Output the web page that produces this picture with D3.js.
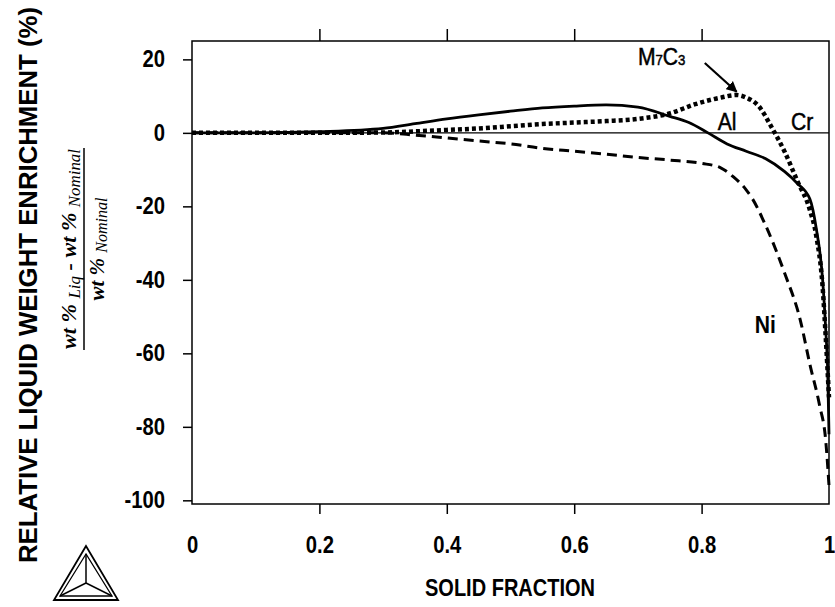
<!DOCTYPE html>
<html><head><meta charset="utf-8">
<script src="https://cdn.jsdelivr.net/npm/d3@7"></script>
<style>body{margin:0;background:#fff}</style>
</head><body>
<svg id="c" width="835" height="607" xmlns="http://www.w3.org/2000/svg"></svg>
<script>
// ---- data ----
const xTicks = [0, 0.2, 0.4, 0.6, 0.8, 1];
const xTickLabels = ["0", "0.2", "0.4", "0.6", "0.8", "1"];
const yTicks = [20, 0, -20, -40, -60, -80, -100];
const yTickLabels = ["20", "0", "-20", "-40", "-60", "-80", "-100"];

// Al (solid)
const alX = [0, 0.1, 0.2, 0.3, 0.35, 0.4, 0.45, 0.5, 0.55, 0.6, 0.65, 0.7, 0.75, 0.78, 0.81, 0.84, 0.87, 0.9, 0.93, 0.95, 0.97, 0.98, 0.99, 0.995, 0.998, 1.0];
const alY = [0, 0, 0.3, 1.2, 2.5, 3.8, 4.9, 5.9, 6.8, 7.3, 7.6, 7.0, 4.5, 2.8, 0, -3, -5, -7, -10.5, -13.7, -18, -26, -40, -54, -65, -82];
// Cr (dotted)
const crX = [0, 0.1, 0.2, 0.3, 0.35, 0.4, 0.45, 0.5, 0.55, 0.6, 0.65, 0.7, 0.75, 0.79, 0.83, 0.855, 0.87, 0.89, 0.91, 0.93, 0.95, 0.97, 0.98, 0.99, 0.995, 1.0];
const crY = [0, 0, 0, 0.1, 0.4, 0.8, 1.2, 1.8, 2.4, 2.8, 3.2, 3.8, 5.3, 7.8, 9.6, 10.3, 9.6, 7.2, 1.5, -5, -13, -21, -28, -42, -56, -72];
// Ni (dashed)
const niX = [0, 0.1, 0.2, 0.3, 0.35, 0.4, 0.45, 0.5, 0.55, 0.6, 0.65, 0.7, 0.75, 0.8, 0.83, 0.85, 0.87, 0.88, 0.9, 0.93, 0.955, 0.97, 0.985, 0.995, 1.0];
const niY = [0, 0, 0, 0, -0.6, -1.4, -2.2, -3.0, -4.2, -5.0, -5.8, -6.7, -7.4, -8.3, -9.5, -12, -15.5, -18, -25, -38, -51, -63, -74, -84, -96];

const seriesNames = ["Al", "Cr", "Ni"];

// ---- chart ----
const svg = d3.select("#c");
const L = 192, R = 829, T = 41, B = 504;
const x = d3.scaleLinear().domain([0, 1]).range([L, R]);
const y = d3.scaleLinear().domain([-101, 25]).range([B, T]);
const font = "'Liberation Sans', Arial, sans-serif";
const SX = 0.88; // horizontal condense for the tall, narrow lettering

// frame
svg.append("rect").attr("x", L).attr("y", T).attr("width", R - L).attr("height", B - T)
  .attr("fill", "none").attr("stroke", "#000").attr("stroke-width", 1.5);

const inner = xTicks.filter(v => v > 0 && v < 1);
// tick marks
svg.append("g").attr("transform", `translate(0,${B})`)
  .call(d3.axisBottom(x).tickValues(inner).tickSize(10).tickFormat(""))
  .call(g => g.select(".domain").remove())
  .selectAll("line").attr("stroke-width", 1.5);
svg.append("g").attr("transform", `translate(0,${T})`)
  .call(d3.axisTop(x).tickValues(inner).tickSize(12).tickFormat(""))
  .call(g => g.select(".domain").remove())
  .selectAll("line").attr("stroke-width", 1.5);
svg.append("g").attr("transform", `translate(${L},0)`)
  .call(d3.axisLeft(y).tickValues(yTicks).tickSize(9).tickFormat(""))
  .call(g => g.select(".domain").remove())
  .selectAll("line").attr("stroke-width", 1.5);

// tick labels
svg.append("g").attr("transform", `translate(0,${B})`)
  .call(d3.axisBottom(x).tickValues(xTicks).tickSize(0).tickPadding(33).tickFormat((d, i) => xTickLabels[i]))
  .call(g => g.select(".domain").remove())
  .selectAll("text").attr("font-family", font).attr("font-weight", "bold").attr("font-size", 23)
  .attr("fill", "#000").attr("transform", `scale(${SX},1)`);
svg.append("g").attr("transform", `translate(${L},0)`)
  .call(d3.axisLeft(y).tickValues(yTicks).tickSize(0).tickPadding(27 / SX).tickFormat((d, i) => yTickLabels[i]))
  .call(g => g.select(".domain").remove())
  .selectAll("text").attr("font-family", font).attr("font-weight", "bold").attr("font-size", 23)
  .attr("fill", "#000").attr("transform", `scale(${SX},1)`);

// zero line
svg.append("line").attr("x1", L).attr("x2", R).attr("y1", y(0)).attr("y2", y(0))
  .attr("stroke", "#000").attr("stroke-width", 1.2);

// curves
const line = d3.line().x(d => x(d[0])).y(d => y(d[1])).curve(d3.curveMonotoneX);
const zip = (a, b) => a.map((v, i) => [v, b[i]]);
svg.append("path").datum(zip(niX, niY)).attr("d", line)
  .attr("fill", "none").attr("stroke", "#000").attr("stroke-width", 3).attr("stroke-dasharray", "10,6");
svg.append("path").datum(zip(crX, crY)).attr("d", line)
  .attr("fill", "none").attr("stroke", "#000").attr("stroke-width", 4.5).attr("stroke-dasharray", "4,3");
svg.append("path").datum(zip(alX, alY)).attr("d", line)
  .attr("fill", "none").attr("stroke", "#000").attr("stroke-width", 2.8);

// series labels
const lab = (v, xv, yv, bold) => svg.append("text")
  .attr("transform", `translate(${x(xv)},${y(yv)}) scale(${SX},1)`).attr("text-anchor", "middle")
  .attr("font-family", font).attr("font-weight", bold ? "bold" : "normal").attr("font-size", 24)
  .attr("stroke", "#000").attr("stroke-width", bold ? 0 : 0.5).text(v);
lab(seriesNames[0], 0.84, 0.8, false);
lab(seriesNames[1], 0.958, 0.8, false);
lab(seriesNames[2], 0.90, -54.4, true);

// M7C3 annotation
const mt = svg.append("text").attr("transform", `translate(${x(0.70)},${y(18.5)}) scale(${SX},1)`)
  .attr("font-family", font).attr("font-size", 24).attr("stroke", "#000").attr("stroke-width", 0.5);
mt.append("tspan").text("M");
mt.append("tspan").attr("font-size", 15).text("7");
mt.append("tspan").text("C");
mt.append("tspan").attr("font-size", 15).text("3");

svg.append("defs").append("marker").attr("id", "ah").attr("viewBox", "0 0 10 10")
  .attr("refX", 9).attr("refY", 5).attr("markerWidth", 5).attr("markerHeight", 5)
  .attr("orient", "auto").attr("markerUnits", "strokeWidth")
  .append("path").attr("d", "M0,0 L10,5 L0,10 Z").attr("fill", "#000");
svg.append("line").attr("x1", x(0.805)).attr("y1", y(19)).attr("x2", x(0.855)).attr("y2", y(11.2))
  .attr("stroke", "#000").attr("stroke-width", 2.2).attr("marker-end", "url(#ah)");

// axis titles
svg.append("text").attr("x", 510).attr("y", 596).attr("text-anchor", "middle")
  .attr("font-family", font).attr("font-weight", "bold").attr("font-size", 23)
  .attr("textLength", 170).attr("lengthAdjust", "spacingAndGlyphs").text("SOLID FRACTION");
svg.append("text").attr("transform", "translate(37,285) rotate(-90)").attr("text-anchor", "middle")
  .attr("font-family", font).attr("font-weight", "bold").attr("font-size", 25)
  .attr("textLength", 556).attr("lengthAdjust", "spacingAndGlyphs")
  .text("RELATIVE LIQUID WEIGHT ENRICHMENT (%)");

// fraction
const serif = "'Liberation Serif', 'Times New Roman', serif";
const fr = svg.append("g").attr("transform", "translate(84,249) rotate(-90)")
  .attr("font-family", serif).attr("font-style", "italic").attr("font-weight", "bold");
const num = fr.append("text").attr("x", 0).attr("y", -8).attr("text-anchor", "middle").attr("font-size", 21)
  .attr("textLength", 200).attr("lengthAdjust", "spacingAndGlyphs");
num.append("tspan").text("wt % ");
num.append("tspan").attr("font-size", 16).attr("font-weight", "normal").attr("dy", 4).text("Liq");
num.append("tspan").attr("dy", -4).text(" - wt % ");
num.append("tspan").attr("font-size", 16).attr("font-weight", "normal").attr("dy", 4).text("Nominal");
fr.append("line").attr("x1", -101).attr("x2", 101).attr("y1", 0).attr("y2", 0)
  .attr("stroke", "#000").attr("stroke-width", 1.5);
const den = fr.append("text").attr("x", 0).attr("y", 20).attr("text-anchor", "middle").attr("font-size", 21);
den.append("tspan").text("wt % ");
den.append("tspan").attr("font-size", 16).attr("font-weight", "normal").attr("dy", 3).text("Nominal");

// logo (triangle)
const logo = svg.append("g").attr("fill", "none").attr("stroke", "#000");
const tri = [[86, 546], [54, 600], [118, 600]];
const c = [86, 583];
logo.append("polygon").attr("points", tri.map(p => p.join(",")).join(" ")).attr("stroke-width", 1.8);
const tri2 = [[86, 554], [60, 596], [112, 596]];
logo.append("polygon").attr("points", tri2.map(p => p.join(",")).join(" ")).attr("stroke-width", 1.3);
tri2.forEach(p => {
  logo.append("line").attr("x1", c[0]).attr("y1", c[1]).attr("x2", p[0]).attr("y2", p[1]).attr("stroke-width", 1.5);
});
</script>
</body></html>
